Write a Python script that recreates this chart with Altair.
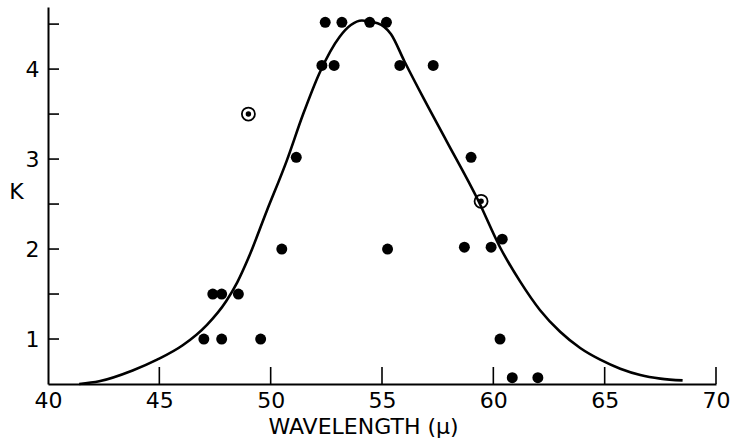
import altair as alt
import pandas as pd

# Measured points (filled dots)
filled_x = [52.45, 53.2, 54.45, 55.2,
            52.3, 52.85, 55.8, 57.3,
            51.15, 59.0,
            50.5, 55.25, 58.7, 59.9, 60.4,
            47.4, 47.8, 48.55,
            47.0, 47.8, 49.55, 60.3,
            60.85, 62.0]
filled_y = [4.52, 4.52, 4.52, 4.52,
            4.04, 4.04, 4.04, 4.04,
            3.02, 3.02,
            2.0, 2.0, 2.02, 2.02, 2.11,
            1.5, 1.5, 1.5,
            1.0, 1.0, 1.0, 1.0,
            0.57, 0.57]

# Circled points
circ_x = [49.0, 59.45]
circ_y = [3.5, 2.53]

# Fitted curve
curve_x = [41.4, 42.3, 43.8, 44.9, 46.05, 47.15, 48.0, 48.5, 49.0, 49.82,
           50.72, 51.46, 52.2, 53.1, 53.6, 54.1, 54.8, 55.4, 56.0, 56.9,
           57.9, 59.3, 60.3, 61.2, 62.1, 63.0, 63.9, 64.8, 65.7, 66.6,
           67.5, 68.5]
curve_y = [0.50, 0.53, 0.65, 0.77, 0.93, 1.16, 1.42, 1.63, 1.90, 2.42,
           2.98, 3.50, 3.96, 4.36, 4.49, 4.54, 4.51, 4.39, 4.09, 3.66,
           3.20, 2.55, 2.02, 1.64, 1.32, 1.08, 0.90, 0.77, 0.67, 0.60,
           0.56, 0.54]

x_ticks = [45, 50, 55, 60, 65, 70]
x_labels = [40, 45, 50, 55, 60, 65, 70]
y_ticks = [1.0, 1.5, 2.0, 2.5, 3.0, 3.5, 4.0, 4.5]
y_labels = [1, 2, 3, 4]

W, H = 668, 377
FONT = "DejaVu Sans"
FS = 22

xs = alt.Scale(domain=[40, 70], nice=False, zero=False)
ys = alt.Scale(domain=[0.5, 4.69], nice=False, zero=False)

xaxis = alt.Axis(values=x_labels, format="d", title="WAVELENGTH  (μ)", grid=False,
                 ticks=False, tickSize=0, labelPadding=6, labelFontSize=FS,
                 labelFont=FONT, labelColor="black", domainColor="black",
                 domainWidth=2, titleFont=FONT, titleFontSize=FS,
                 titleFontWeight="normal", titleColor="black",
                 titleX=315, titleY=32, titleAlign="center",
                 titleBaseline="top", labelFlush=False)
yaxis = alt.Axis(values=y_labels, format="d", title="K", grid=False, ticks=False,
                 tickSize=0, labelPadding=9, labelFontSize=FS, labelFont=FONT,
                 labelColor="black", domainColor="black", domainWidth=2,
                 titleFont=FONT, titleFontSize=FS, titleFontWeight="normal",
                 titleColor="black", titleAngle=0, titleX=-32, titleY=184,
                 titleAlign="center", titleBaseline="middle", labelFlush=False)

curve_df = pd.DataFrame({"x": curve_x, "y": curve_y})
filled_df = pd.DataFrame({"x": filled_x, "y": filled_y})
circ_df = pd.DataFrame({"x": circ_x, "y": circ_y})
xt_df = pd.DataFrame({"x": x_ticks})
yt_df = pd.DataFrame({"y": y_ticks})

curve = alt.Chart(curve_df).mark_line(
    color="black", strokeWidth=2.6, interpolate="monotone"
).encode(
    x=alt.X("x:Q", scale=xs, axis=xaxis),
    y=alt.Y("y:Q", scale=ys, axis=yaxis),
)

dots = alt.Chart(filled_df).mark_circle(color="black", opacity=1, size=120).encode(
    x=alt.X("x:Q", scale=xs), y=alt.Y("y:Q", scale=ys)
)

rings = alt.Chart(circ_df).mark_point(
    filled=False, color="black", strokeWidth=1.8, size=170, opacity=1
).encode(x=alt.X("x:Q", scale=xs), y=alt.Y("y:Q", scale=ys))

centers = alt.Chart(circ_df).mark_circle(color="black", opacity=1, size=30).encode(
    x=alt.X("x:Q", scale=xs), y=alt.Y("y:Q", scale=ys)
)

xticks = alt.Chart(xt_df).mark_rule(color="black", strokeWidth=1.6).encode(
    x=alt.X("x:Q", scale=xs), y=alt.value(H), y2=alt.value(H - 17)
)

yticks = alt.Chart(yt_df).mark_rule(color="black", strokeWidth=1.6).encode(
    y=alt.Y("y:Q", scale=ys), x=alt.value(0), x2=alt.value(11)
)

chart = alt.layer(xticks, yticks, curve, dots, rings, centers).properties(
    width=W, height=H, autosize="none",
    padding={"left": 48, "top": 7, "right": 14, "bottom": 56},
    background="white",
).configure_view(stroke=None)

chart.save("out.html", embed_options={"renderer": "svg", "actions": False})
